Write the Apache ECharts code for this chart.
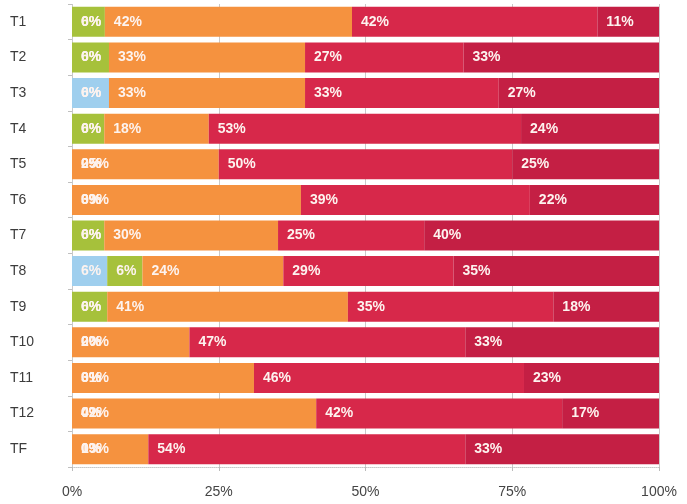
<!DOCTYPE html>
<html>
<head>
<meta charset="utf-8">
<script src="https://cdn.jsdelivr.net/npm/echarts@6/dist/echarts.min.js"></script>
<style>
  html, body { margin: 0; padding: 0; background: #ffffff; }
  #chart { width: 687px; height: 504px; }
</style>
</head>
<body>
<div id="chart"></div>
<script>
// Row labels, top to bottom
const categories = ['T1', 'T2', 'T3', 'T4', 'T5', 'T6', 'T7', 'T8', 'T9', 'T10', 'T11', 'T12', 'TF'];
// Percent share of each group per row (labels show the rounded value)
const blueValues    = [0, 0, 6.3, 0, 0, 0, 0, 6, 0, 0, 0, 0, 0];
const greenValues   = [5.6, 6.3, 0, 5.5, 0, 0, 5.5, 6, 6, 0, 0, 0, 0];
const orangeValues  = [42.1, 33.4, 33.4, 17.8, 25, 39, 29.6, 24, 41, 20, 31, 41.6, 13];
const redValues     = [41.8, 27.0, 33.0, 53.2, 50, 39, 24.9, 29, 35, 47, 46, 41.9, 54];
const darkRedValues = [10.5, 33.3, 27.3, 23.5, 25, 22, 40, 35, 18, 33, 23, 16.5, 33];
// Value-axis tick labels
const xTicks = [0, 25, 50, 75, 100];

const seriesDefs = [
  { name: 'blue', data: blueValues, color: '#9fcfee' },
  { name: 'green', data: greenValues, color: '#a6c13b' },
  { name: 'orange', data: orangeValues, color: '#f5923f' },
  { name: 'red', data: redValues, color: '#d7284a' },
  { name: 'darkred', data: darkRedValues, color: '#c41f44' }
];

const GRID = { left: 72, right: 28, top: 4, bottom: 37 };
const plotWidth = 687 - GRID.left - GRID.right;
const LABEL_GAP = 9;

// Empty segments keep their label at the start of the bar
function buildSeries() {
  return seriesDefs.map((s, si) => ({
    type: 'bar',
    name: s.name,
    stack: 'share',
    barWidth: 30,
    itemStyle: { color: s.color },
    data: s.data.map((v, ri) => {
      if (v !== 0) return v;
      let before = 0;
      for (let k = 0; k < si; k++) before += seriesDefs[k].data[ri];
      if (before === 0) return v;
      return {
        value: v,
        label: {
          position: [LABEL_GAP - before / 100 * plotWidth, '50%'],
          align: 'left',
          verticalAlign: 'middle'
        }
      };
    }),
    label: {
      show: true,
      position: 'insideLeft',
      distance: LABEL_GAP,
      color: '#fdf3ef',
      fontSize: 14,
      fontWeight: 'bold',
      fontFamily: 'Liberation Sans, Arial, sans-serif',
      formatter: p => Math.round(p.value) + '%'
    }
  }));
}

const chart = echarts.init(document.getElementById('chart'), null, { renderer: 'canvas' });

chart.setOption({
  animation: false,
  backgroundColor: '#ffffff',
  grid: Object.assign({ containLabel: false }, GRID),
  xAxis: {
    type: 'value',
    min: xTicks[0],
    max: xTicks[xTicks.length - 1],
    interval: 25,
    axisLine: { show: true, lineStyle: { color: '#c8c8c8', type: 'dotted', width: 1 } },
    axisTick: { show: true, length: 4, lineStyle: { color: '#bbbbbb' } },
    splitLine: { show: true, lineStyle: { color: '#c9c9c9', width: 1 } },
    axisLabel: {
      margin: 18,
      color: '#444444',
      fontSize: 14,
      fontFamily: 'Liberation Sans, Arial, sans-serif',
      formatter: v => xTicks.includes(v) ? v + '%' : ''
    }
  },
  yAxis: {
    type: 'category',
    data: categories,
    inverse: true,
    axisLine: { show: false },
    axisTick: { show: true, length: 4, lineStyle: { color: '#c0c0c0' } },
    splitLine: { show: false },
    axisLabel: {
      align: 'left',
      margin: 62,
      color: '#3c3c3c',
      fontSize: 14,
      fontFamily: 'Liberation Sans, Arial, sans-serif'
    }
  },
  series: buildSeries()
});
</script>
</body>
</html>
